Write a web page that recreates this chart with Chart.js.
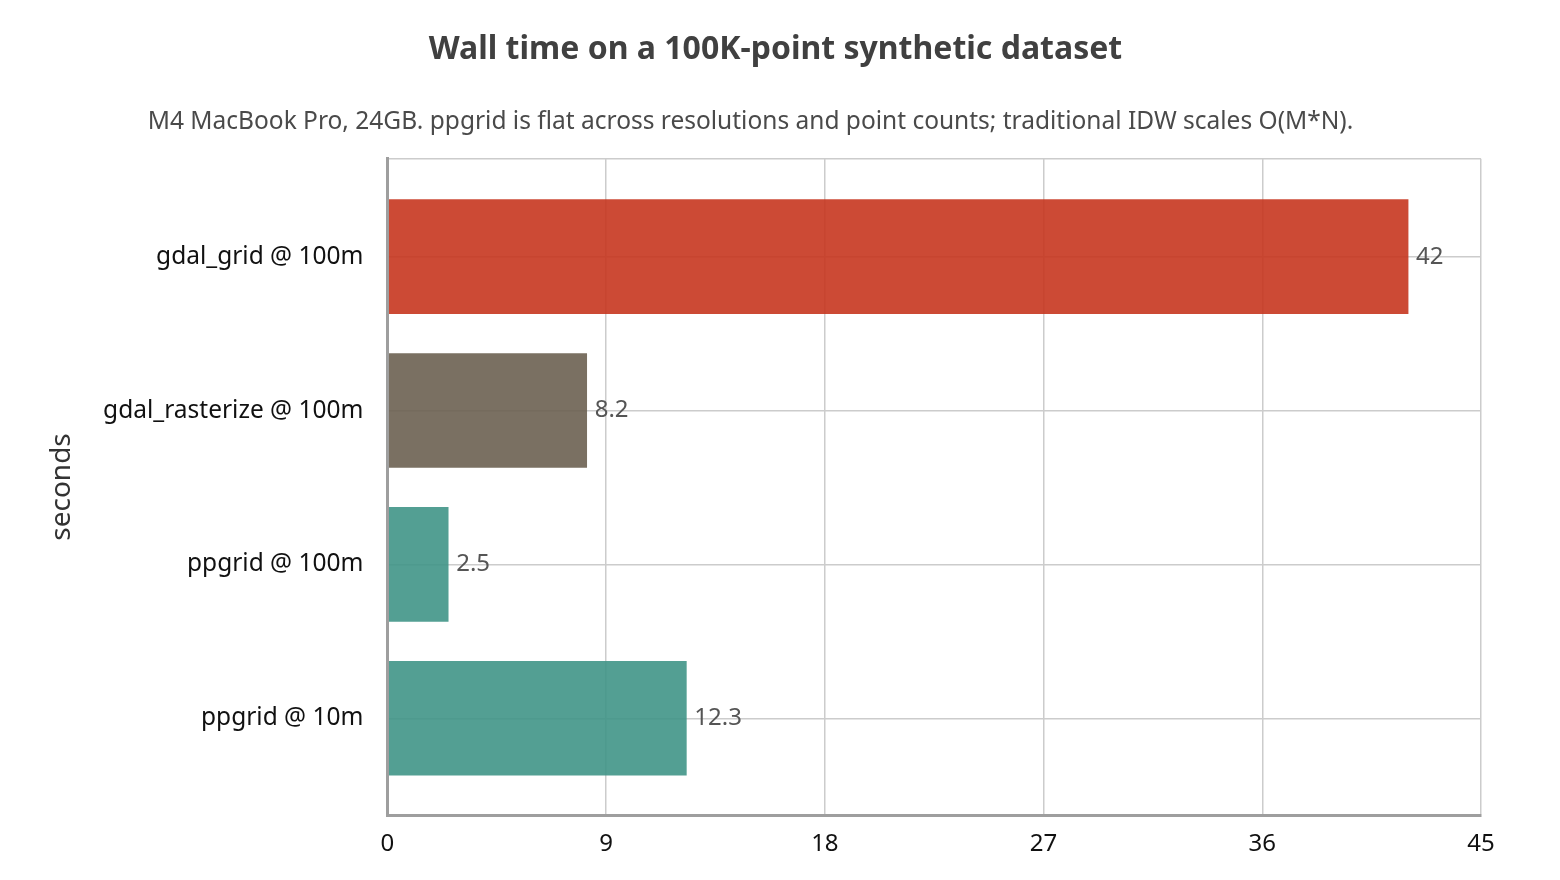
<!DOCTYPE html>
<html>
<head>
<meta charset="utf-8">
<title>Wall time on a 100K-point synthetic dataset</title>
<script src="https://cdn.jsdelivr.net/npm/chart.js@4.4.1/dist/chart.umd.min.js"></script>
<style>
  html, body { margin: 0; padding: 0; background: #ffffff; }
  #wrap { width: 1560px; height: 880px; }
</style>
</head>
<body>
<div id="wrap"><canvas id="chart-id"></canvas></div>
<script>
// Data //
const categories = ["gdal_grid @ 100m", "gdal_rasterize @ 100m", "ppgrid @ 100m", "ppgrid @ 10m"];
const seconds = [42, 8.2, 2.5, 12.3];
const valueLabels = ["42", "8.2", "2.5", "12.3"];
const barColors = ["rgba(198,54,31,0.9)", "rgba(108,97,81,0.9)", "rgba(64,149,135,0.9)", "rgba(64,149,135,0.9)"];
const xTickStep = 9;
const xMax = 45;

Chart.defaults.font.family = '"Noto Sans", sans-serif';

// Value labels at the end of each bar
const valueLabelPlugin = {
    id: "valueLabels",
    afterDatasetsDraw(chart) {
        const ctx = chart.ctx;
        const meta = chart.getDatasetMeta(0);
        ctx.save();
        ctx.font = '24px "Noto Sans"';
        ctx.fillStyle = "#555555";
        ctx.textBaseline = "middle";
        ctx.textAlign = "left";
        meta.data.forEach((bar, i) => {
            ctx.fillText(valueLabels[i], bar.x + 8, bar.y);
        });
        ctx.restore();
    }
};

const canvas2D = document.getElementById("chart-id").getContext("2d");

const myChart = new Chart(canvas2D, {
    type: "bar",
    data: {
        datasets: [
            {
                data: seconds.map((v, i) => ({ x: v, y: i })),
                backgroundColor: barColors,
                borderWidth: 0,
                barThickness: 114
            }
        ]
    },
    options: {
        indexAxis: "y",
        responsive: true,
        maintainAspectRatio: false,
        animation: false,
        devicePixelRatio: 1,
        events: [],
        layout: {
            padding: { left: 20, right: 79, top: 0, bottom: 6 }
        },
        plugins: {
            legend: { display: false },
            tooltip: { enabled: false },
            title: {
                display: true,
                text: "      Wall time on a 100K-point synthetic dataset",
                color: "#404040",
                font: { size: 32, weight: "bold" },
                padding: { top: 31, bottom: 18 }
            },
            subtitle: {
                display: true,
                text: "M4 MacBook Pro, 24GB. ppgrid is flat across resolutions and point counts; traditional IDW scales O(M*N).",
                color: "#4a4a4a",
                font: { size: 24.5 },
                padding: { top: 20, bottom: 22 }
            }
        },
        scales: {
            x: {
                type: "linear",
                min: 0,
                max: xMax,
                ticks: {
                    stepSize: xTickStep,
                    color: "#111111",
                    font: { size: 24 },
                    padding: 15
                },
                grid: {
                    color: "#cccccc",
                    lineWidth: 1.5,
                    drawTicks: false
                },
                border: { color: "#9e9e9e", width: 3, z: 1 }
            },
            y: {
                type: "linear",
                reverse: true,
                offset: false,
                min: -0.636,
                max: 3.63,
                ticks: {
                    stepSize: 1,
                    color: "#111111",
                    font: { size: 24.5 },
                    padding: 24,
                    autoSkip: false,
                    callback: (value) => Number.isInteger(value) ? categories[value] : ""
                },
                grid: {
                    offset: false,
                    color: "#cccccc",
                    lineWidth: 1.5,
                    drawTicks: false
                },
                border: { color: "#9e9e9e", width: 3, z: 1 },
                title: {
                    display: true,
                    text: "seconds",
                    color: "#333333",
                    font: { size: 28 },
                    padding: { top: 25, bottom: 0.5 }
                }
            }
        }
    },
    plugins: [valueLabelPlugin]
});
</script>
</body>
</html>
